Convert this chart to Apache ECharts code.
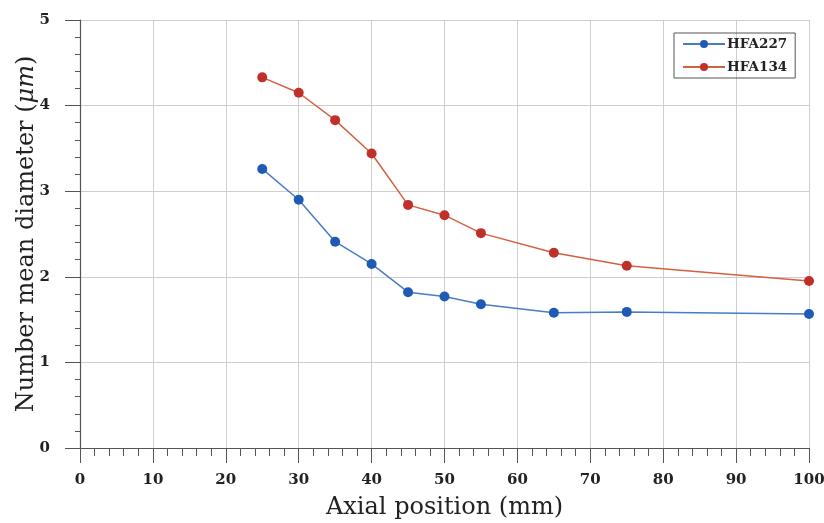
<!DOCTYPE html>
<html><head><meta charset="utf-8">
<script src="https://cdn.jsdelivr.net/npm/echarts@6/dist/echarts.min.js"></script>
<style>html,body{margin:0;padding:0;background:#fff}#c{width:824px;height:523px}</style>
</head><body><div id="c"></div>
<script>
const positions = [25, 30, 35, 40, 45, 50, 55, 65, 75, 100];
const hfa227 = [3.26, 2.90, 2.41, 2.15, 1.82, 1.77, 1.68, 1.58, 1.59, 1.565];
const hfa134 = [4.33, 4.15, 3.83, 3.44, 2.84, 2.72, 2.51, 2.28, 2.13, 1.95];
const seriesNames = ['HFA227', 'HFA134'];
const xTitle = 'Axial position (mm)';

const serif = '"DejaVu Serif","Liberation Serif",serif';
const chart = echarts.init(document.getElementById('c'));
const pair = (arr) => positions.map((p, i) => [p, arr[i]]);
chart.setOption({
  animation: false,
  backgroundColor: '#fff',
  grid: { left: 80, right: 15, top: 20, bottom: 75, containLabel: false, outerBoundsMode: 'none' },
  legend: {
    left: 674, top: 33, orient: 'vertical',
    borderColor: '#555', borderWidth: 1, padding: [4, 8, 4, 8],
    itemWidth: 42, itemHeight: 10, itemGap: 9,
    textStyle: { fontFamily: serif, fontWeight: 'bold', fontSize: 13.5, color: '#222', padding: [0, 0, 0, -3] },
    data: seriesNames
  },
  xAxis: {
    type: 'value', min: 0, max: 100, interval: 10,
    name: xTitle, nameLocation: 'middle', nameGap: 48, nameMoveOverlap: false,
    nameTextStyle: { fontFamily: serif, fontSize: 24, color: '#222' },
    axisLine: { show: true, lineStyle: { color: '#555', width: 1.2 } },
    axisTick: { show: true, length: 15, lineStyle: { color: '#555' } },
    minorTick: { show: true, splitNumber: 5, length: 8, lineStyle: { color: '#555' } },
    axisLabel: { fontFamily: serif, fontWeight: 'bold', fontSize: 15, color: '#222', margin: 25 },
    splitLine: { show: true, lineStyle: { color: '#cfcfcf' } }
  },
  yAxis: {
    type: 'value', min: 0, max: 5, interval: 1,
    name: '{a|Number mean diameter (}{b|μm}{a|)}', nameLocation: 'middle', nameGap: 41, nameMoveOverlap: false,
    nameTextStyle: {
      rich: {
        a: { fontFamily: serif, fontSize: 24, color: '#222' },
        b: { fontFamily: serif, fontSize: 24, fontStyle: 'italic', color: '#222' }
      }
    },
    axisLine: { show: true, lineStyle: { color: '#555', width: 1.2 } },
    axisTick: { show: true, length: 15, lineStyle: { color: '#555' } },
    minorTick: { show: true, splitNumber: 5, length: 5, lineStyle: { color: '#555' } },
    axisLabel: { fontFamily: serif, fontWeight: 'bold', fontSize: 15, color: '#222', margin: 30 },
    splitLine: { show: true, lineStyle: { color: '#cfcfcf' } }
  },
  series: [
    {
      name: seriesNames[0], type: 'line', data: pair(hfa227),
      symbol: 'circle', symbolSize: 10,
      itemStyle: { color: '#1f5bb5' },
      lineStyle: { color: '#4a7cc4', width: 1.5 }
    },
    {
      name: seriesNames[1], type: 'line', data: pair(hfa134),
      symbol: 'circle', symbolSize: 10,
      itemStyle: { color: '#c0302a' },
      lineStyle: { color: '#d5603f', width: 1.5 }
    }
  ]
});
</script></body></html>
